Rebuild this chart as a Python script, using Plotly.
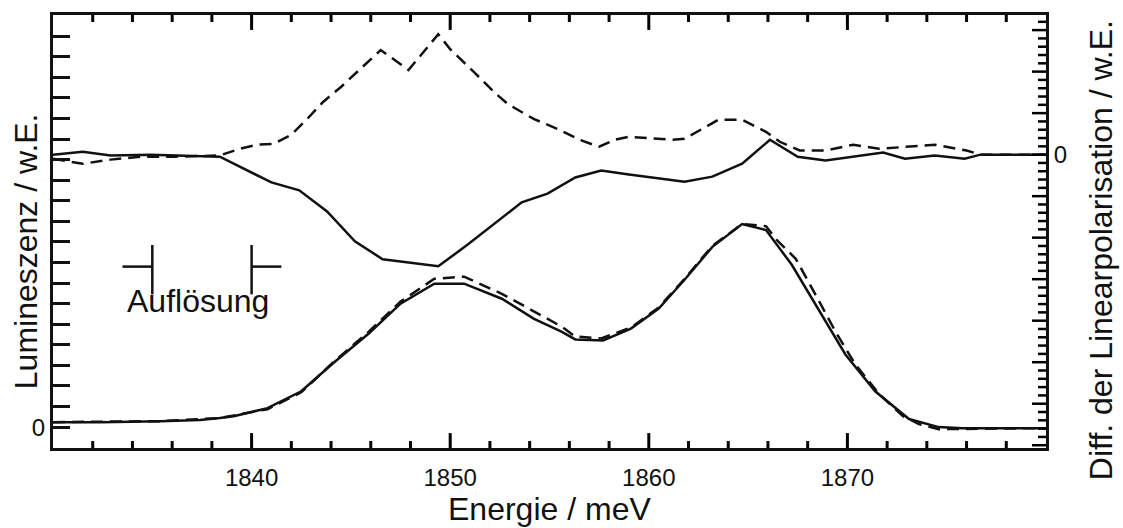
import plotly.graph_objects as go

# ---- Data ----
# Luminescence spectra (left axis, arbitrary units)
lum_E = [1830.0, 1832.4, 1835.4, 1837.4, 1838.4, 1839.1, 1840.8, 1842.5, 1844.1, 1845.9,
         1847.5, 1849.2, 1850.7, 1852.6, 1854.2, 1855.6, 1856.3, 1857.7, 1859.1, 1860.5,
         1861.8, 1863.2, 1864.7, 1865.9, 1867.2, 1868.6, 1869.9, 1871.4, 1873.1, 1874.6,
         1875.8, 1880.0]
lum_solid = [0.24, 0.24, 0.29, 0.34, 0.44, 0.53, 0.92, 1.74, 3.10, 4.55,
             6.00, 6.97, 6.97, 6.24, 5.27, 4.64, 4.26, 4.21, 4.79, 5.76,
             7.16, 8.76, 9.87, 9.58, 7.89, 5.61, 3.53, 1.74, 0.39, 0.00,
             -0.05, -0.05]

lum_dash_E = [1830.0, 1835.4, 1838.4, 1840.8, 1842.5, 1844.1, 1845.9, 1847.5, 1849.2, 1850.7,
              1852.6, 1854.2, 1855.6, 1856.3, 1857.6, 1859.1, 1860.5, 1861.8, 1863.2, 1864.7,
              1865.9, 1866.4, 1867.4, 1868.4, 1869.4, 1870.4, 1871.6, 1872.8, 1873.6, 1874.6,
              1880.0]
lum_dash = [0.24, 0.29, 0.44, 0.87, 1.69, 3.14, 4.64, 6.10, 7.21, 7.31,
            6.48, 5.61, 4.89, 4.40, 4.31, 4.84, 5.81, 7.21, 8.81, 9.87,
            9.77, 9.14, 8.18, 6.43, 4.64, 3.05, 1.60, 0.53, 0.15, -0.10,
            -0.05]

# Difference of linear polarisation (right axis, arbitrary units)
pol_E = [1830.0, 1831.5, 1832.9, 1834.9, 1838.4, 1841.0, 1842.4, 1843.8, 1845.2, 1846.6,
         1849.4, 1850.9, 1853.6, 1854.9, 1856.3, 1857.6, 1859.0, 1861.8, 1863.2, 1864.7,
         1866.1, 1867.5, 1868.9, 1870.3, 1871.8, 1872.9, 1874.4, 1875.9, 1876.7, 1880.0]
pol_solid = [0.00, 0.07, -0.02, 0.00, -0.05, -0.67, -0.86, -1.37, -2.09, -2.52,
             -2.69, -2.16, -1.15, -0.94, -0.55, -0.38, -0.48, -0.65, -0.53, -0.22,
             0.36, -0.05, -0.14, -0.05, 0.05, -0.10, -0.02, -0.10, 0.00, 0.00]

pol_dash_E = [1830.0, 1831.5, 1832.9, 1834.4, 1836.1, 1838.4, 1839.4, 1840.3, 1841.1, 1842.0,
              1842.8, 1843.6, 1844.5, 1845.7, 1846.5, 1847.5, 1847.9, 1849.4, 1850.0, 1851.2,
              1852.2, 1852.9, 1854.2, 1855.5, 1856.5, 1857.5, 1858.3, 1859.0, 1861.2, 1861.8,
              1862.7, 1863.5, 1864.7, 1865.9, 1866.6, 1867.6, 1868.9, 1870.3, 1871.6, 1873.3,
              1874.4, 1876.0, 1876.7, 1880.0]
pol_dash = [-0.10, -0.22, -0.12, -0.05, -0.05, -0.02, 0.14, 0.24, 0.26, 0.48,
            0.86, 1.27, 1.63, 2.16, 2.52, 2.18, 2.04, 2.90, 2.54, 1.99,
            1.51, 1.22, 0.86, 0.60, 0.36, 0.19, 0.36, 0.43, 0.36, 0.38,
            0.62, 0.84, 0.84, 0.55, 0.31, 0.10, 0.10, 0.24, 0.14, 0.19,
            0.24, 0.10, 0.00, 0.00]

# Resolution marker (meV positions of the two bars), bar extent and arm length
res_E = [1835.0, 1840.0]
res_y = [6.45, 8.85]
res_mid = 7.8
res_arm = 1.5
res_label = "Auflösung"

# Axis ranges and tick definitions
x_range = [1830, 1880]
y_range = [-1.016, 20.03]
y2_range = [-7.067, 3.364]
x_ticks = [1840, 1850, 1860, 1870]
x_minor = [v for v in range(1832, 1880, 2) if v % 10 != 0]
left_ticks = list(range(0, 20))
right_ticks = list(range(-7, 4))
right_minor = [round(k * 0.2, 1) for k in range(-35, 17) if k % 5 != 0]

FONT = "Liberation Sans, Arial, sans-serif"
INK = "#111111"
LW = 2.5
DASH = "12px,7px"

# plot area in pixels (for converting tick lengths into axis units)
W, H = 1123, 528
ML, MR, MT, MB = 53, 77, 13, 80
PX_PER_X = (W - ML - MR) / (x_range[1] - x_range[0])
PX_PER_Y = (H - MT - MB) / (y_range[1] - y_range[0])

fig = go.Figure()

fig.add_trace(go.Scatter(x=lum_E, y=lum_solid, mode="lines",
                         line=dict(color=INK, width=LW), yaxis="y", showlegend=False))
fig.add_trace(go.Scatter(x=lum_dash_E, y=lum_dash, mode="lines",
                         line=dict(color=INK, width=LW, dash=DASH), yaxis="y", showlegend=False))
fig.add_trace(go.Scatter(x=pol_E, y=pol_solid, mode="lines",
                         line=dict(color=INK, width=LW), yaxis="y2", showlegend=False))
fig.add_trace(go.Scatter(x=pol_dash_E, y=pol_dash, mode="lines",
                         line=dict(color=INK, width=LW, dash=DASH), yaxis="y2", showlegend=False))

# Resolution marker: left bar with arm to the left, right bar with arm to the right
x_left, x_right = res_E
fig.add_trace(go.Scatter(
    x=[x_left, x_left, None, x_left - res_arm, x_left, None,
       x_right, x_right, None, x_right, x_right + res_arm],
    y=[res_y[0], res_y[1], None, res_mid, res_mid, None,
       res_y[0], res_y[1], None, res_mid, res_mid],
    mode="lines", line=dict(color=INK, width=LW), yaxis="y", showlegend=False))

# Tick marks on the bottom, top and right frame edges
bx, by, tx_, ty_ = [], [], [], []
for v in x_ticks + x_minor:
    L = (15 if v in x_ticks else 7) / PX_PER_Y
    bx += [v, v, None]
    by += [y_range[0], y_range[0] + L, None]
    tx_ += [v, v, None]
    ty_ += [y_range[1] - L, y_range[1], None]
fig.add_trace(go.Scatter(x=bx, y=by, mode="lines", line=dict(color="#000000", width=3, simplify=False),
                         yaxis="y", showlegend=False, hoverinfo="skip"))
fig.add_trace(go.Scatter(x=tx_, y=ty_, mode="lines", line=dict(color="#000000", width=3, simplify=False),
                         yaxis="y", showlegend=False, hoverinfo="skip"))
rx, ry = [], []
for v in right_ticks + right_minor:
    L = (14 if v in right_ticks else 8) / PX_PER_X
    rx += [x_range[1] - L, x_range[1], None]
    ry += [v, v, None]
fig.add_trace(go.Scatter(x=rx, y=ry, mode="lines", line=dict(color="#000000", width=2.5, simplify=False),
                         yaxis="y2", showlegend=False, hoverinfo="skip"))

fig.add_annotation(x=(x_left + x_right) / 2 - 0.2, y=6.15, xref="x", yref="y",
                   text=res_label, showarrow=False,
                   font=dict(family=FONT, size=32, color=INK),
                   xanchor="center", yanchor="middle")

# Axis titles
fig.add_annotation(x=-0.027, y=0.455, xref="paper", yref="paper",
                   text="Lumineszenz / w.E.", textangle=-90, showarrow=False,
                   font=dict(family=FONT, size=32, color=INK),
                   xanchor="center", yanchor="middle")
fig.add_annotation(x=1.0554, y=0.457, xref="paper", yref="paper",
                   text="Diff. der Linearpolarisation / w.E.", textangle=-90, showarrow=False,
                   font=dict(family=FONT, size=32, color=INK),
                   xanchor="center", yanchor="middle")
fig.add_annotation(x=0.5, y=-0.14, xref="paper", yref="paper",
                   text="Energie / meV", showarrow=False,
                   font=dict(family=FONT, size=32, color=INK),
                   xanchor="center", yanchor="middle")

fig.update_layout(
    width=W, height=H,
    margin=dict(l=ML, r=MR, t=MT, b=MB),
    paper_bgcolor="white", plot_bgcolor="white",
    font=dict(family=FONT, color=INK, size=24),
    xaxis=dict(
        range=x_range, showgrid=False, zeroline=False,
        showline=True, linecolor=INK, linewidth=3, mirror=True,
        ticks="", tickmode="array", tickvals=x_ticks, ticktext=[str(v) for v in x_ticks],
        tickfont=dict(size=24, family=FONT, color=INK), ticklabelstandoff=6,
    ),
    yaxis=dict(
        range=y_range, showgrid=False, zeroline=False,
        showline=True, linecolor=INK, linewidth=3, mirror=False,
        ticks="inside", ticklen=17, tickcolor=INK, tickwidth=2.5,
        tickmode="array", tickvals=left_ticks,
        ticktext=["0" if v == 0 else "" for v in left_ticks],
        tickfont=dict(size=24, family=FONT, color=INK),
    ),
    yaxis2=dict(
        range=y2_range, overlaying="y", side="right", anchor="x",
        showgrid=False, zeroline=False,
        showline=True, linecolor=INK, linewidth=3,
        ticks="", tickmode="array", tickvals=right_ticks,
        ticktext=["0" if v == 0 else "" for v in right_ticks],
        tickfont=dict(size=24, family=FONT, color=INK),
    ),
)

fig.write_html("out.html")
